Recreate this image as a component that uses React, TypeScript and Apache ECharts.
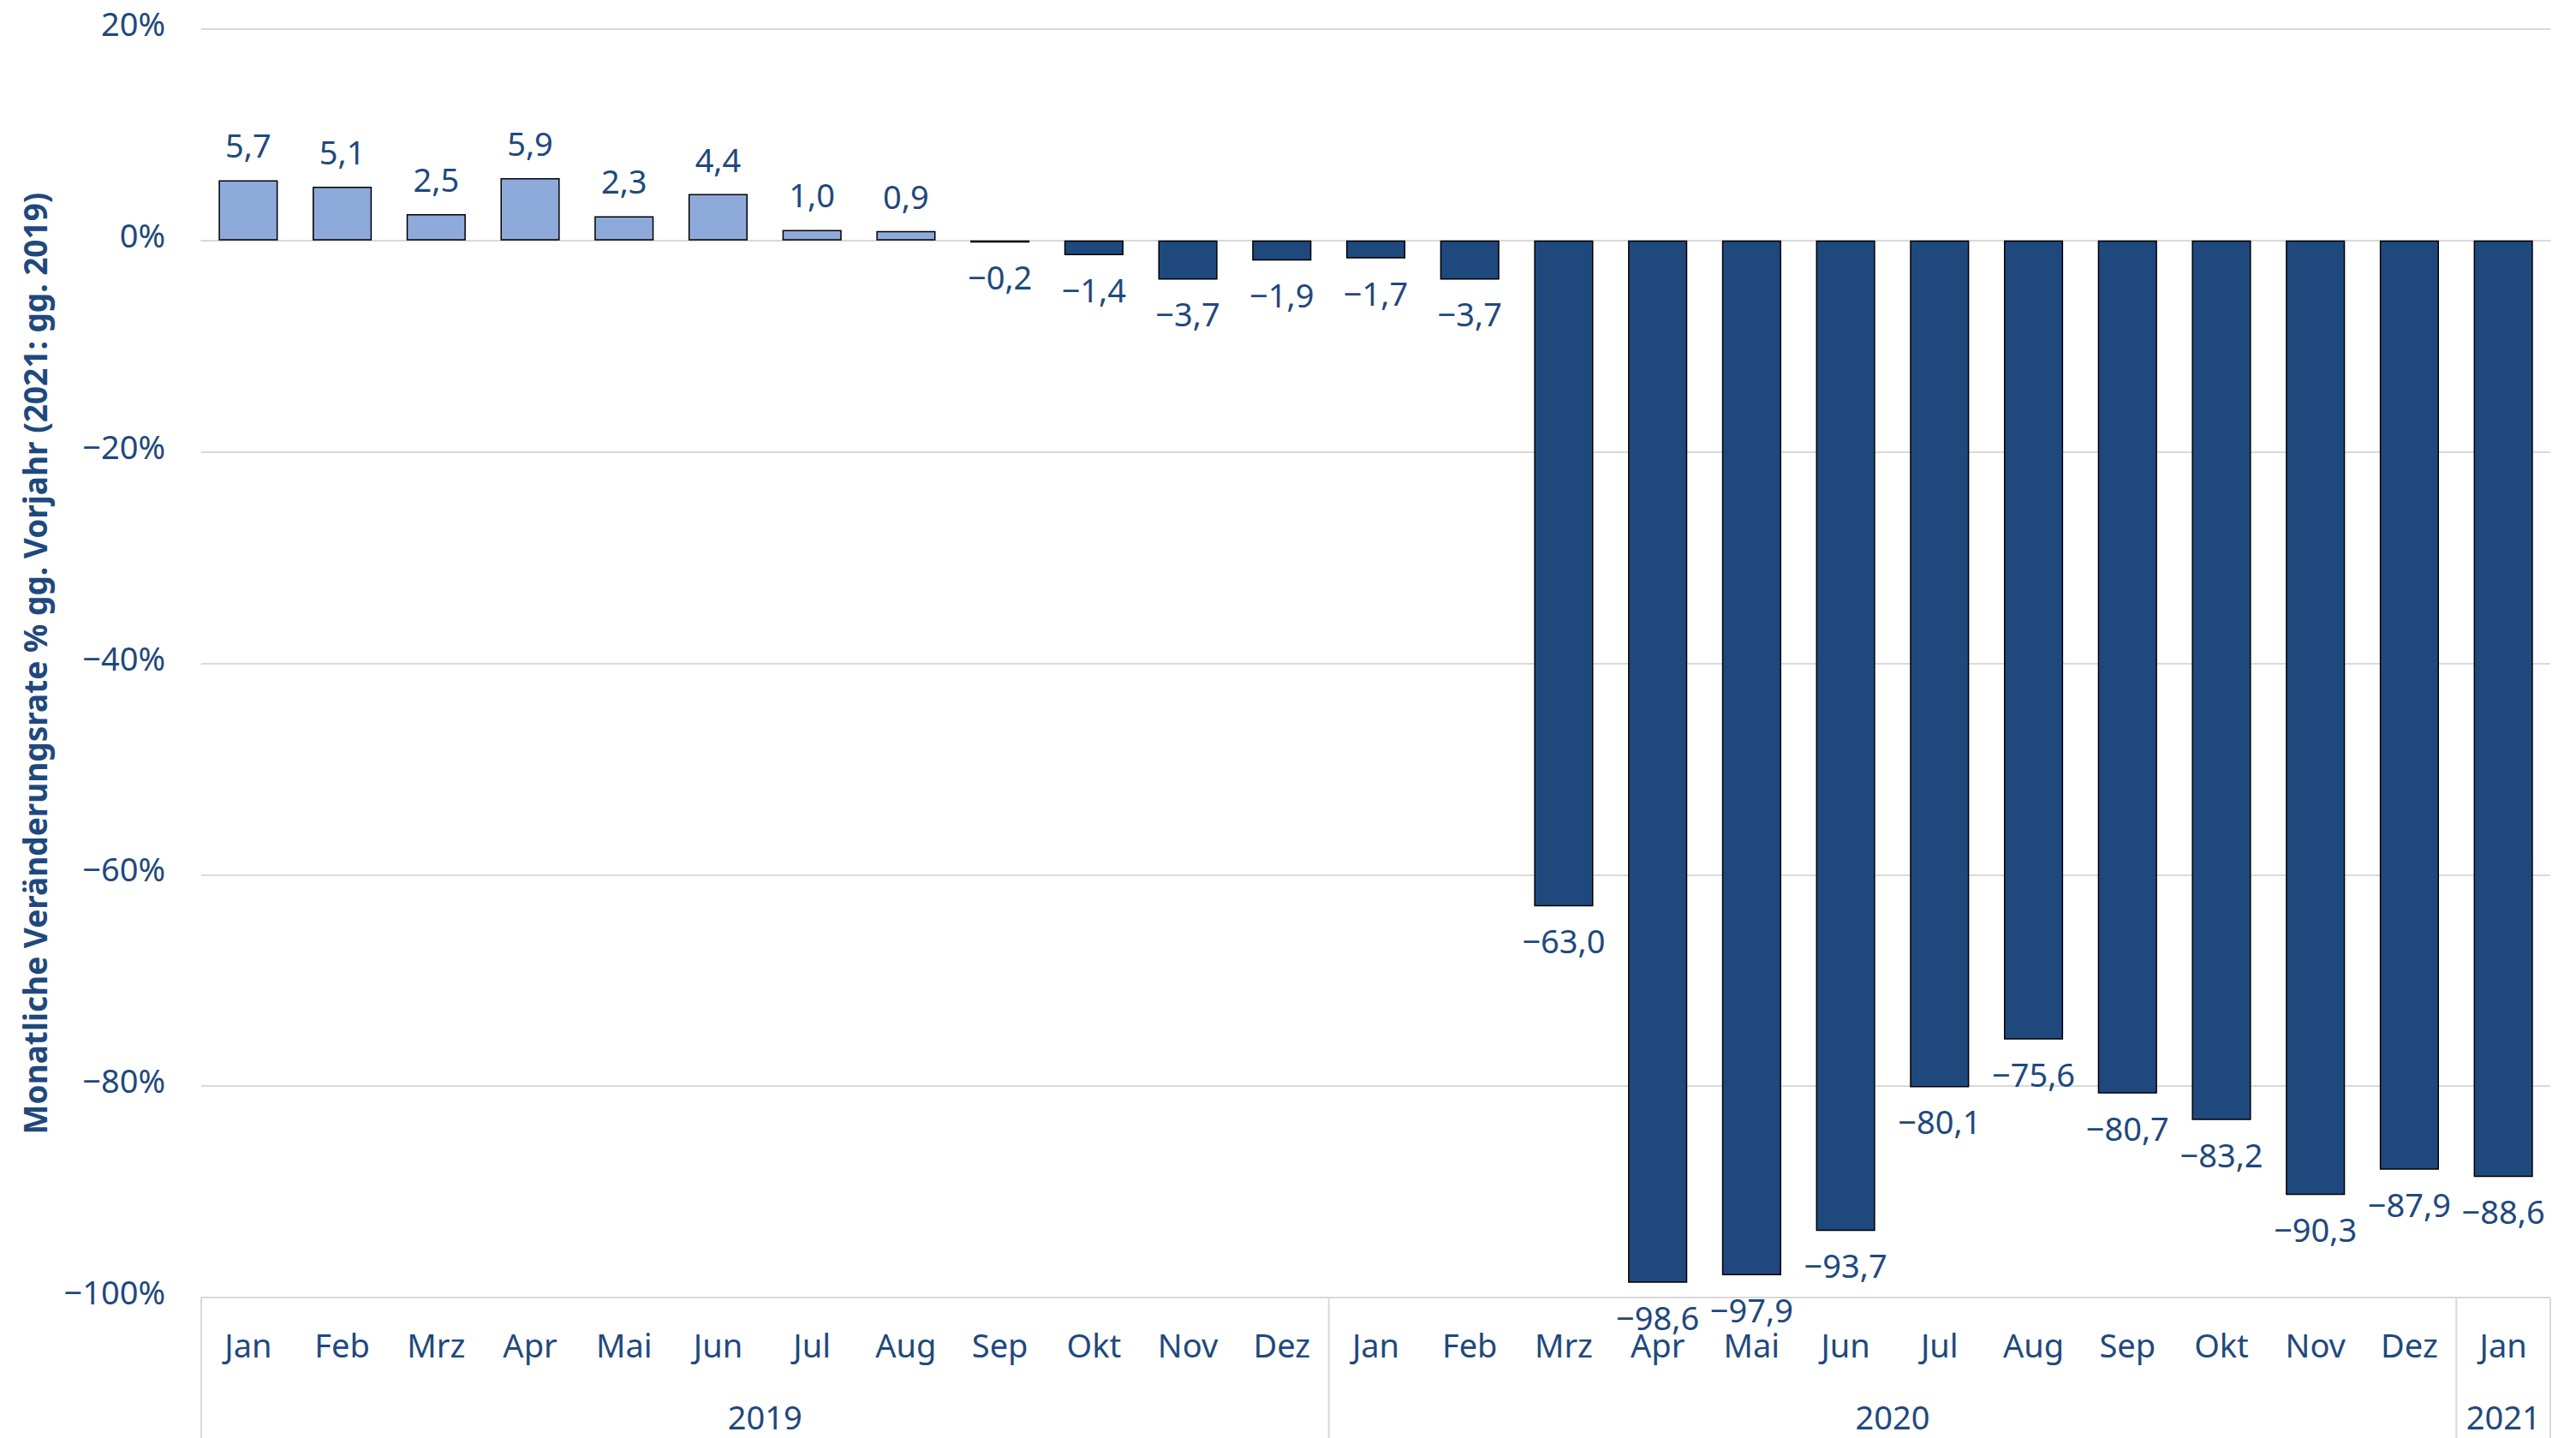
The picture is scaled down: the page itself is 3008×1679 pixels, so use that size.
import React, { useEffect, useRef } from "react";
import * as echarts from "echarts";

const months = [
  "Jan", "Feb", "Mrz", "Apr", "Mai", "Jun", "Jul", "Aug", "Sep", "Okt", "Nov", "Dez",
  "Jan", "Feb", "Mrz", "Apr", "Mai", "Jun", "Jul", "Aug", "Sep", "Okt", "Nov", "Dez",
  "Jan",
];
const years = [
  { label: "2019", start: 0, end: 11 },
  { label: "2020", start: 12, end: 23 },
  { label: "2021", start: 24, end: 24 },
];
const values = [
  5.7, 5.1, 2.5, 5.9, 2.3, 4.4, 1.0, 0.9, -0.2, -1.4, -3.7, -1.9,
  -1.7, -3.7, -63.0, -98.6, -97.9, -93.7, -80.1, -75.6, -80.7, -83.2, -90.3, -87.9,
  -88.6,
];
const yTicks = { min: -100, max: 20, interval: 20 };
const axisTitle = "Monatliche Veränderungsrate % gg. Vorjahr (2021: gg. 2019)";

const TEXT = "#1f497d";
const DARK = "#1f497d";
const LIGHT = "#8eaadb";
const GRID = "#d9d9d9";
const FONT = "'Noto Sans', 'Open Sans', sans-serif";
const FS = 38;

const fmt = (v: number) => v.toFixed(1).replace(".", ",").replace("-", "\u2212");

export default function App() {
  const ref = useRef<HTMLDivElement>(null);
  useEffect(() => {
    if (!ref.current) return;
    const chart = echarts.init(ref.current, null, { renderer: "svg" });
    const H = 1679;
    const option: any = {
      animation: false,
      backgroundColor: "#fff",
      grid: { left: 235, right: 30, top: 34, bottom: 164, containLabel: false },
      xAxis: {
        type: "category",
        data: months,
        axisLine: { show: true, lineStyle: { color: GRID, width: 2 } },
        axisTick: { show: false },
        axisLabel: { color: TEXT, fontSize: FS, fontFamily: FONT, margin: 36, interval: 0 },
      },
      yAxis: {
        type: "value",
        min: yTicks.min,
        max: yTicks.max,
        interval: yTicks.interval,
        name: axisTitle,
        nameLocation: "middle",
        nameGap: 176,
        nameTextStyle: { color: TEXT, fontSize: 37, fontFamily: FONT, fontWeight: "bold" },
        axisLine: { show: false },
        axisTick: { show: false },
        splitLine: { lineStyle: { color: GRID, width: 2 } },
        axisLabel: {
          color: TEXT,
          fontSize: FS,
          fontFamily: FONT,
          margin: 42,
          verticalAlign: "bottom",
          lineHeight: 14,
          formatter: (v: number) => (v < 0 ? "\u2212" + Math.abs(v) : String(v)) + "%",
        },
      },
      series: [
        {
          type: "bar",
          barWidth: "63%",
          data: values.map((v) => ({
            value: v,
            itemStyle: { color: v >= 0 ? LIGHT : DARK, borderColor: "#000", borderWidth: 1.5 },
            label: { position: v >= 0 ? "top" : "bottom", distance: v >= 0 ? 22 : 21 },
          })),
          label: {
            show: true,
            color: TEXT,
            fontSize: FS,
            fontFamily: FONT,
            formatter: (p: any) => fmt(p.value),
          },
        },
      ],
    };
    chart.setOption(option);

    const c0 = chart.convertToPixel({ xAxisIndex: 0 }, 0) as number;
    const c1 = chart.convertToPixel({ xAxisIndex: 0 }, 1) as number;
    const bw = c1 - c0;
    const axisY = chart.convertToPixel({ yAxisIndex: 0 }, yTicks.min) as number;
    const graphics: any[] = [];
    const bounds: number[] = [];
    years.forEach((y, i) => {
      const cs = chart.convertToPixel({ xAxisIndex: 0 }, y.start) as number;
      const ce = chart.convertToPixel({ xAxisIndex: 0 }, y.end) as number;
      const left = cs - bw / 2;
      const right = ce + bw / 2;
      bounds.push(left);
      graphics.push({
        type: "text",
        x: (left + right) / 2,
        y: 1654,
        style: {
          text: y.label,
          fill: TEXT,
          font: `${FS}px ${FONT}`,
          textAlign: "center",
          textVerticalAlign: "middle",
        },
      });
      if (i === years.length - 1) bounds.push(right);
    });
    bounds.forEach((x) => {
      graphics.push({
        type: "line",
        shape: { x1: x, y1: axisY, x2: x, y2: H },
        style: { stroke: GRID, lineWidth: 2 },
      });
    });
    chart.setOption({ graphic: graphics });

    return () => chart.dispose();
  }, []);
  return (
    <div
      ref={ref}
      style={{ position: "fixed", left: 0, top: 0, width: 3008, height: 1679, background: "#fff" }}
    />
  );
}
